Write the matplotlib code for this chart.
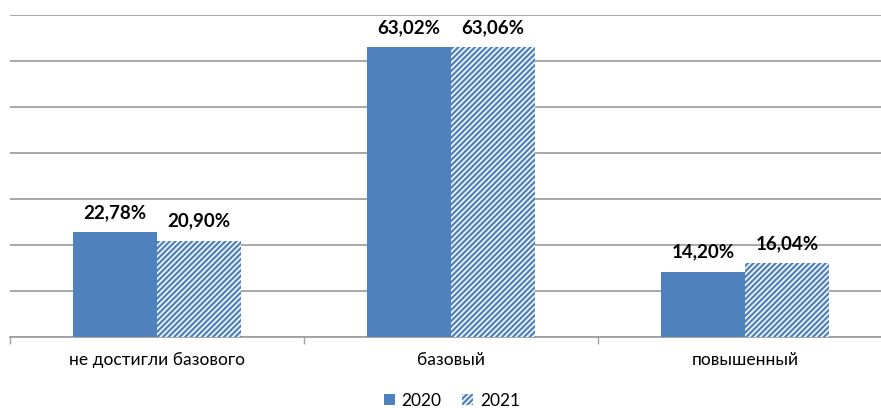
import matplotlib
matplotlib.use("Agg")
import matplotlib.pyplot as plt
import numpy as np

categories = ["не достигли базового", "базовый", "повышенный"]
series_names = ["2020", "2021"]
values_2020 = [22.78, 63.02, 14.20]
values_2021 = [20.90, 63.06, 16.04]
labels_2020 = ["22,78%", "63,02%", "14,20%"]
labels_2021 = ["20,90%", "63,06%", "16,04%"]

plt.rcParams['font.family'] = ['Lato', 'DejaVu Sans']
plt.rcParams['hatch.linewidth'] = 1.6
plt.rcParams['hatch.color'] = '#4F81BD'

fig = plt.figure(figsize=(8.81, 4.08), dpi=100)
ax = fig.add_axes([10/881, 71/408, 882/881, 322/408])

x = np.arange(len(categories))
w = 0.286
blue = '#4F81BD'
b1 = ax.bar(x - w/2, values_2020, w, color=blue, label=series_names[0], zorder=3)
b2 = ax.bar(x + w/2, values_2021, w, facecolor='#F4F8FC', edgecolor=blue, hatch='//////',
            linewidth=0, label=series_names[1], zorder=3)

for rect, lab in zip(b1, labels_2020):
    ax.annotate(lab, (rect.get_x() + rect.get_width()/2, rect.get_height()),
                xytext=(0, 8), textcoords='offset points', ha='center', va='bottom',
                fontsize=13.5, fontweight='bold', color='black')
for rect, lab in zip(b2, labels_2021):
    ax.annotate(lab, (rect.get_x() + rect.get_width()/2, rect.get_height()),
                xytext=(0, 8), textcoords='offset points', ha='center', va='bottom',
                fontsize=13.5, fontweight='bold', color='black')

ax.set_xlim(-0.5, 2.5)
ax.set_ylim(0, 70)
ax.set_yticks(np.arange(0, 71, 10))
ax.yaxis.grid(True, color='#A0A0A0', linewidth=1.3, zorder=0)
ax.set_axisbelow(True)
ax.tick_params(axis='y', length=0, labelleft=False)

ax.set_xticks(x)
ax.set_xticklabels(categories, fontsize=12.5)
ax.set_xticks([-0.5, 0.5, 1.5, 2.5], minor=True)
ax.tick_params(axis='x', which='major', length=0, pad=11)
ax.tick_params(axis='x', which='minor', length=5, color='#A0A0A0', width=1)

for s in ['top', 'right', 'left']:
    ax.spines[s].set_visible(False)
ax.spines['bottom'].set_color('#A0A0A0')
ax.spines['bottom'].set_linewidth(1.3)

leg = fig.legend(handles=[b1, b2], labels=series_names, loc='center',
                 bbox_to_anchor=(452/881, 1 - 401/408), ncol=2, frameon=False,
                 fontsize=12.5, handlelength=0.6, handleheight=0.6, handletextpad=0.4,
                 columnspacing=1.2)

fig.savefig('out.png', dpi=100)
